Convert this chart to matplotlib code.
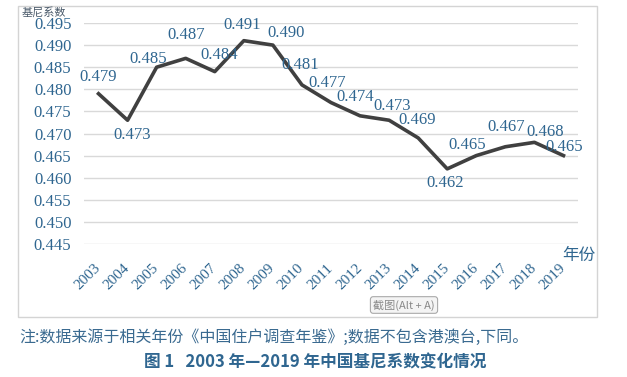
import numpy as np
import matplotlib
matplotlib.use("Agg")
import matplotlib.pyplot as plt
from matplotlib.patches import Rectangle

# 数据
years = ["2003", "2004", "2005", "2006", "2007", "2008", "2009", "2010", "2011",
         "2012", "2013", "2014", "2015", "2016", "2017", "2018", "2019"]
gini = [0.479, 0.473, 0.485, 0.487, 0.484, 0.491, 0.490, 0.481, 0.477,
        0.474, 0.473, 0.469, 0.462, 0.465, 0.467, 0.468, 0.465]
y_ticks = [0.445, 0.450, 0.455, 0.460, 0.465, 0.470, 0.475, 0.480,
           0.485, 0.490, 0.495]

# 数据标签的偏移（像素）
label_offsets = [(0, 17), (5, -15), (-8, 8), (0, 23), (4, 17), (-2, 16),
                 (13, 12), (-2, 20), (-4, 20), (-5, 19), (3, 14), (-1, 18),
                 (-2, -14), (-9, 11), (1, 20), (11, 10), (1, 9)]

plt.rcParams["font.serif"] = ["Liberation Serif", "DejaVu Serif"]
blue = "#2f6690"
cjk = ["Noto Sans CJK SC", "DejaVu Sans"]

W, H = 627, 377
fig = plt.figure(figsize=(W / 100, H / 100), dpi=100)

# 外框
fig.patches.append(Rectangle((18 / W, 1 - 317 / H), (597 - 18) / W, (317 - 6) / H,
                             transform=fig.transFigure, fill=False,
                             edgecolor="#d4d4d4", lw=1))

ax = fig.add_axes([84 / W, 1 - 244 / H, (578 - 84) / W, (244 - 23) / H])
x = np.arange(len(years))
ax.plot(x, gini, color="#404040", lw=2.6, solid_joinstyle="round", zorder=3)

ax.set_xlim(-0.5, len(years) - 0.5)
ax.set_ylim(0.445, 0.495)
ax.set_yticks(y_ticks)
ax.set_yticklabels([f"{v:.3f}" for v in y_ticks], family="serif",
                   fontsize=12, color=blue)
ax.yaxis.grid(True, color="#d9d9d9", lw=1)
ax.set_axisbelow(True)
ax.tick_params(axis="y", length=0, pad=9)

ax.set_xticks(x)
ax.set_xticklabels(years, rotation=45, ha="right", va="center",
                   rotation_mode="anchor", family="serif", fontsize=11,
                   color=blue)
ax.tick_params(axis="x", length=0, pad=16)
for s in ax.spines.values():
    s.set_visible(False)

for i, v in enumerate(gini):
    dx, dy = label_offsets[i]
    ax.annotate(f"{v:.3f}", (x[i], v), xytext=(dx, dy),
                textcoords="offset pixels", ha="center", va="center",
                family="serif", fontsize=12, color=blue, zorder=4)

fig.text(22 / W, 1 - 12 / H, "基尼系数", family=cjk, fontsize=8,
         color="#4a5a6a", ha="left", va="center")
fig.text(579 / W, 1 - 255 / H, "年份", family=cjk, fontsize=12,
         color=blue, ha="center", va="center")

# 截图按钮
fig.text(404 / W, 1 - 305 / H, "截图(Alt + A)", family=cjk, fontsize=8,
         color="#888888", ha="center", va="center",
         bbox=dict(boxstyle="round,pad=0.25", fc="#f4f4f4", ec="#aaaaaa", lw=0.8))

fig.text(19 / W, 1 - 337 / H,
         "注:数据来源于相关年份《中国住户调查年鉴》;数据不包含港澳台,下同。",
         family=cjk, fontsize=11.5, color="#3a6a90", ha="left", va="center")
fig.text(315 / W, 1 - 362 / H, "图 1   2003 年—2019 年中国基尼系数变化情况",
         family=cjk, fontsize=12, fontweight="bold", color=blue,
         ha="center", va="center")

fig.savefig("out.png", dpi=100)
